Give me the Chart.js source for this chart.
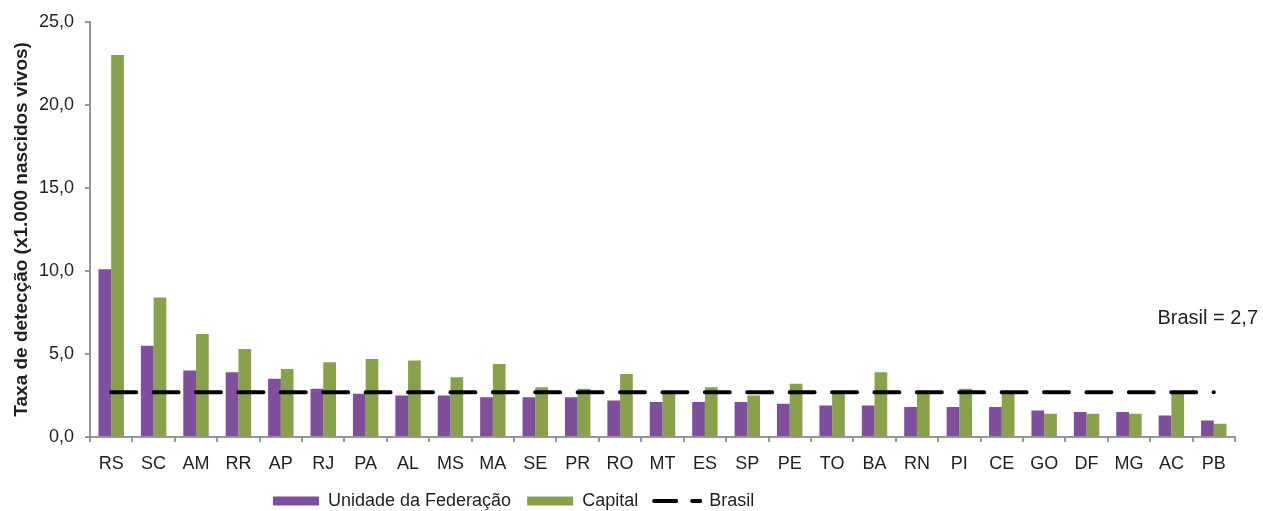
<!DOCTYPE html>
<html>
<head>
<meta charset="utf-8">
<title>Taxa de detecção por UF e capital</title>
<script src="https://cdn.jsdelivr.net/npm/chart.js@4.4.1/dist/chart.umd.min.js"></script>
<style>
  html, body { margin: 0; padding: 0; background: #fff; }
  canvas { display: block; }
</style>
</head>
<body>
<canvas id="chart" width="1263" height="511"></canvas>
<script>
// taxa de detecção (x1.000 nascidos vivos), ordenado pela UF
const estados = ['RS', 'SC', 'AM', 'RR', 'AP', 'RJ', 'PA', 'AL', 'MS', 'MA', 'SE', 'PR', 'RO', 'MT',
  'ES', 'SP', 'PE', 'TO', 'BA', 'RN', 'PI', 'CE', 'GO', 'DF', 'MG', 'AC', 'PB'];
const taxaUF = [10.1, 5.5, 4.0, 3.9, 3.5, 2.9, 2.6, 2.5, 2.5, 2.4, 2.4, 2.4, 2.2, 2.1,
  2.1, 2.1, 2.0, 1.9, 1.9, 1.8, 1.8, 1.8, 1.6, 1.5, 1.5, 1.3, 1.0];
const taxaCapital = [23.0, 8.4, 6.2, 5.3, 4.1, 4.5, 4.7, 4.6, 3.6, 4.4, 3.0, 2.9, 3.8, 2.7,
  3.0, 2.5, 3.2, 2.7, 3.9, 2.7, 2.9, 2.7, 1.4, 1.4, 1.4, 2.7, 0.8];
const taxaBrasil = 2.7;
const yTicks = [0, 5, 10, 15, 20, 25];

const ROXO = '#7f4f9e';
const VERDE = '#8aa14c';
const EIXO = '#969696';
const TEXTO = '#1f1f1f';
const FONTE = "'Liberation Sans', Arial, sans-serif";

const virgula = v => v.toFixed(1).replace('.', ',');

// legenda fica abaixo dos rótulos, um pouco à esquerda do centro
const posLegenda = {
  id: 'posLegenda',
  afterLayout(chart) {
    const lg = chart.legend;
    lg.left = 257;
    lg.top = 476;
  }
};

// rótulo do valor nacional à direita
const rotuloBrasil = {
  id: 'rotuloBrasil',
  afterDraw(chart) {
    const { ctx } = chart;
    const y = chart.scales.y.getPixelForValue(taxaBrasil) - 74;
    ctx.save();
    ctx.font = `20px ${FONTE}`;
    ctx.fillStyle = TEXTO;
    ctx.textAlign = 'right';
    ctx.textBaseline = 'middle';
    ctx.fillText('Brasil = ' + virgula(taxaBrasil), chart.width - 5, y);
    ctx.restore();
  }
};

new Chart(document.getElementById('chart'), {
  data: {
    labels: estados,
    datasets: [
      {
        type: 'bar',
        label: 'Unidade da Federação',
        data: taxaUF,
        backgroundColor: ROXO,
        borderWidth: 0,
        order: 1
      },
      {
        type: 'bar',
        label: 'Capital',
        data: taxaCapital,
        backgroundColor: VERDE,
        borderWidth: 0,
        order: 1
      },
      {
        type: 'line',
        label: 'Brasil',
        data: estados.map(() => taxaBrasil),
        borderColor: '#000',
        backgroundColor: '#000',
        borderWidth: 4,
        borderDash: [25, 17.4],
        borderCapStyle: 'round',
        pointRadius: 0,
        fill: false,
        order: 0
      }
    ]
  },
  options: {
    responsive: false,
    animation: false,
    layout: { padding: { top: 21, right: 28, left: 0, bottom: 0 } },
    datasets: {
      bar: { categoryPercentage: 0.6, barPercentage: 1.0 }
    },
    scales: {
      x: {
        offset: true,
        grid: { drawOnChartArea: false, tickLength: 5, color: EIXO, lineWidth: 2, offset: true },
        border: { color: EIXO, width: 2 },
        ticks: { color: TEXTO, font: { family: FONTE, size: 18 }, padding: 11, maxRotation: 0, autoSkip: false },
        afterFit(scale) { scale.height = 54; }
      },
      y: {
        min: 0,
        max: 25,
        afterBuildTicks(scale) { scale.ticks = yTicks.map(v => ({ value: v })); },
        grid: { drawOnChartArea: false, tickLength: 5, color: EIXO, lineWidth: 2 },
        border: { color: EIXO, width: 2 },
        ticks: { color: TEXTO, font: { family: FONTE, size: 18 }, padding: 11, callback: v => virgula(v) },
        title: {
          display: true,
          text: 'Taxa de detecção (x1.000 nascidos vivos)',
          color: TEXTO,
          font: { family: FONTE, size: 19, weight: 'bold' },
          padding: { top: 10, bottom: 0 }
        },
        afterFit(scale) { scale.width = 90; }
      }
    },
    plugins: {
      tooltip: { enabled: false },
      legend: {
        position: 'bottom',
        align: 'start',
        maxHeight: 20,
        labels: {
          color: TEXTO,
          font: { family: FONTE, size: 18 },
          usePointStyle: true,
          pointStyleWidth: 46,
          boxHeight: 9,
          padding: 16,
          sort: (a, b) => a.datasetIndex - b.datasetIndex,
          generateLabels(chart) {
            const itens = Chart.defaults.plugins.legend.labels.generateLabels(chart);
            return itens.map(item => {
              const ds = chart.data.datasets[item.datasetIndex];
              if (ds.type === 'line') {
                return { ...item, pointStyle: 'line', lineWidth: 4, lineDash: [22, 16], lineCap: 'round', strokeStyle: '#000' };
              }
              return { ...item, pointStyle: 'rect', lineWidth: 0 };
            });
          }
        }
      }
    }
  },
  plugins: [posLegenda, rotuloBrasil]
});
</script>
</body>
</html>
